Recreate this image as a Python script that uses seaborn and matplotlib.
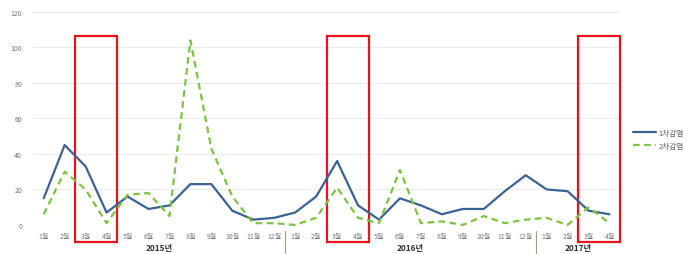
import numpy as np
import pandas as pd
import matplotlib
matplotlib.use("Agg")
import matplotlib.pyplot as plt
import matplotlib.transforms as mtransforms
from matplotlib.patches import Rectangle
import seaborn as sns

months = [f"{m}월" for m in range(1, 13)] * 2 + [f"{m}월" for m in range(1, 5)]
years = ["2015년", "2016년", "2017년"]
year_counts = [12, 12, 4]
first = [15, 45, 33, 7, 16, 9, 11, 23, 23, 8, 3, 4,
         7, 16, 36, 11, 3, 15, 11, 6, 9, 9, 19, 28,
         20, 19, 8, 6]
second = [6, 30, 20, 1, 17, 18, 5, 104, 43, 16, 1, 1,
          0, 4, 21, 4, 1, 31, 1, 2, 0, 5, 1, 3,
          4, 0, 10, 1]
highlight = [2, 14, 26]  # index of each "3월" boxed in red

sns.set_theme(style="white")
plt.rcParams["font.family"] = ["Noto Sans CJK KR", "DejaVu Sans"]

df = pd.DataFrame({"idx": np.arange(len(months)), "1차감염": first, "2차감염": second})
long = df.melt(id_vars="idx", var_name="series", value_name="value")

fig = plt.figure(figsize=(6.92, 2.55), dpi=100)
ax = fig.add_axes([0.048, 0.114, 0.848, 0.835])

sns.lineplot(data=long, x="idx", y="value", hue="series", style="series",
             palette=["#3B6292", "#7DC243"], dashes=[(None, None), (3, 2)],
             linewidth=1.6, ax=ax, legend=False)
for ln in ax.get_lines():
    ln.set_clip_on(False)

ax.set_xlim(-0.5, len(months) - 0.5)
ax.set_ylim(0, 120)
ax.set_yticks(range(0, 121, 20))
ax.set_xticks(range(len(months)))
ax.set_xticklabels(months)
ax.tick_params(axis="x", labelsize=5, colors="#777777", pad=5, length=0)
ax.tick_params(axis="y", labelsize=5, colors="#777777", pad=8, length=0)
ax.yaxis.grid(True, color="#ececec", linewidth=0.8)
ax.set_axisbelow(True)
ax.set_xlabel("")
ax.set_ylabel("")
for s in ax.spines.values():
    s.set_visible(False)

# year labels and separators below the axis
trans = mtransforms.blended_transform_factory(ax.transData, ax.transAxes)
start = 0
for i, (yr, n) in enumerate(zip(years, year_counts)):
    ax.text(start + (n - 1) / 2, -0.108, yr, transform=trans, ha="center", va="center",
            fontsize=6, color="#333333", fontweight="bold")
    if i > 0:
        ax.plot([start - 0.5, start - 0.5], [-0.03, -0.14], transform=trans,
                color="#9aa07a", linewidth=0.8, clip_on=False)
    start += n

# red highlight boxes over 3월-4월
for h in highlight:
    ax.add_patch(Rectangle((h - 0.5, -0.08), 2, 0.967, transform=trans,
                           fill=False, edgecolor="#e8141c", linewidth=1.6, clip_on=False))

handles = [plt.Line2D([], [], color="#3B6292", linewidth=1.6),
           plt.Line2D([], [], color="#7DC243", linewidth=1.6, dashes=(3, 2))]
fig.legend(handles, ["1차감염", "2차감염"], loc="center left", bbox_to_anchor=(0.905, 0.45),
           frameon=False, fontsize=5.5, handlelength=3, labelcolor="#666666",
           handletextpad=0.3, labelspacing=0.6)

fig.savefig("out.png", dpi=100)
